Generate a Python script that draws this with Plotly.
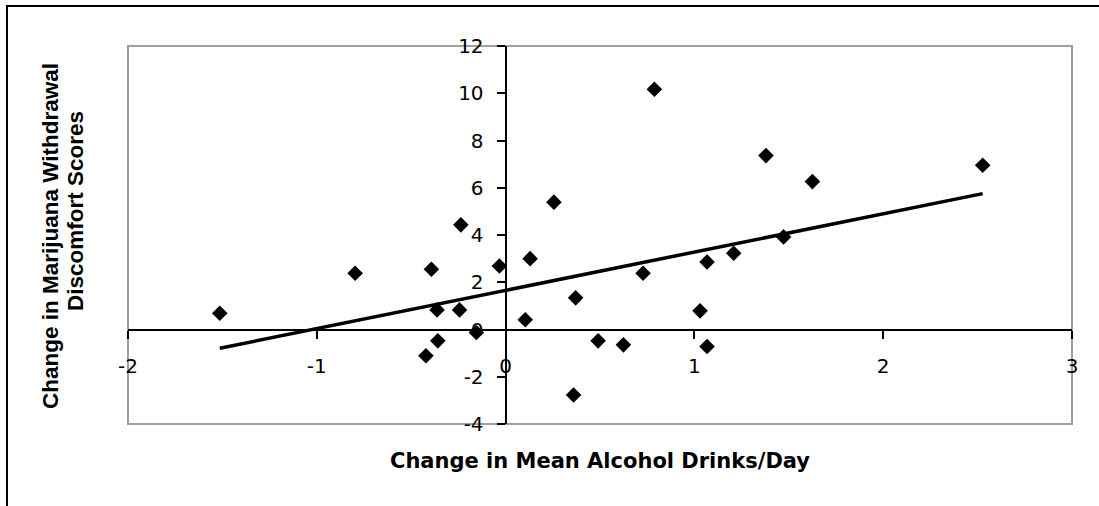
import numpy as np
import plotly.graph_objects as go

# Data
alcohol_change = [-1.514, -0.797, -0.393, -0.363, -0.244, -0.359, -0.422, -0.155, -0.237, -0.033,
                  0.130, 0.104, 0.256, 0.371, 0.360, 0.490, 0.624, 0.728, 0.788, 1.030,
                  1.067, 1.067, 1.208, 1.379, 1.472, 1.625, 2.527]
withdrawal_change = [0.69, 2.38, 2.55, 0.83, 0.83, -0.48, -1.11, -0.13, 4.43, 2.69,
                     3.00, 0.41, 5.39, 1.34, -2.77, -0.48, -0.65, 2.38, 10.17, 0.79,
                     2.86, -0.72, 3.23, 7.36, 3.92, 6.26, 6.95]
x_ticks = [-2, -1, 0, 1, 2, 3]
y_ticks = [-4, -2, 0, 2, 4, 6, 8, 10, 12]
x_title = "Change in Mean Alcohol Drinks/Day"
y_title_lines = ["Change in Marijuana Withdrawal", "Discomfort Scores"]

# Linear trend line (least squares)
slope, intercept = np.polyfit(alcohol_change, withdrawal_change, 1)
trend_x = [min(alcohol_change), max(alcohol_change)]
trend_y = [slope * v + intercept for v in trend_x]

W, H = 1099, 506
L, R, T, B = 128, 27, 46, 82
pw, ph = W - L - R, H - T - B

def px_x(p):
    return (p - L) / pw

def px_y(p):
    return (H - B - p) / ph

fig = go.Figure()
fig.add_trace(go.Scatter(x=trend_x, y=trend_y, mode="lines",
                         line=dict(color="black", width=3.5), hoverinfo="skip"))
fig.add_trace(go.Scatter(x=alcohol_change, y=withdrawal_change, mode="markers",
                         marker=dict(symbol="diamond", size=12, color="black")))

xr, yr = [-2, 3], [-4, 12]
tick_font = dict(family="DejaVu Sans, Arial, sans-serif", size=20, color="black")

fig.update_layout(
    width=W, height=H,
    margin=dict(l=L, r=R, t=T, b=B),
    paper_bgcolor="white", plot_bgcolor="white",
    showlegend=False,
    xaxis=dict(range=xr, tickvals=x_ticks, ticktext=[str(v) for v in x_ticks],
               showgrid=False, zeroline=False, showline=True, linecolor="black", linewidth=2,
               ticks="outside", ticklen=8, tickwidth=2, tickcolor="black",
               anchor="free", position=(0 - yr[0]) / (yr[1] - yr[0]),
               tickfont=tick_font, ticklabelstandoff=10, layer="below traces"),
    yaxis=dict(range=yr, tickvals=y_ticks, ticktext=[str(v) for v in y_ticks],
               showgrid=False, zeroline=False, showline=True, linecolor="black", linewidth=2,
               ticks="outside", ticklen=8, tickwidth=2, tickcolor="black",
               anchor="free", position=(0 - xr[0]) / (xr[1] - xr[0]),
               tickfont=tick_font, ticklabelstandoff=9, layer="below traces"),
    shapes=[
        dict(type="rect", xref="paper", yref="paper", x0=0, x1=1, y0=0, y1=1,
             line=dict(color="#a0a0a0", width=2), layer="below"),
        dict(type="rect", xref="paper", yref="paper",
             x0=px_x(7), x1=px_x(1110), y0=px_y(515), y1=px_y(6),
             line=dict(color="black", width=2), layer="below"),
    ],
    annotations=[
        dict(text=x_title, xref="paper", yref="paper", x=px_x(600), y=px_y(461),
             xanchor="center", yanchor="middle", showarrow=False,
             font=dict(family="DejaVu Sans, Arial, sans-serif", size=21, color="black", weight="bold")),
        dict(text=y_title_lines[0], xref="paper", yref="paper", x=px_x(50), y=px_y(236),
             xanchor="center", yanchor="middle", showarrow=False, textangle=-90,
             font=dict(family="Liberation Sans, Arial, sans-serif", size=22.5, color="black", weight="bold")),
        dict(text=y_title_lines[1], xref="paper", yref="paper", x=px_x(75), y=px_y(211),
             xanchor="center", yanchor="middle", showarrow=False, textangle=-90,
             font=dict(family="Liberation Sans, Arial, sans-serif", size=22.5, color="black", weight="bold")),
    ],
)

fig.write_html("out.html", config={"displayModeBar": False},
               post_script="document.body.style.margin='0';")
